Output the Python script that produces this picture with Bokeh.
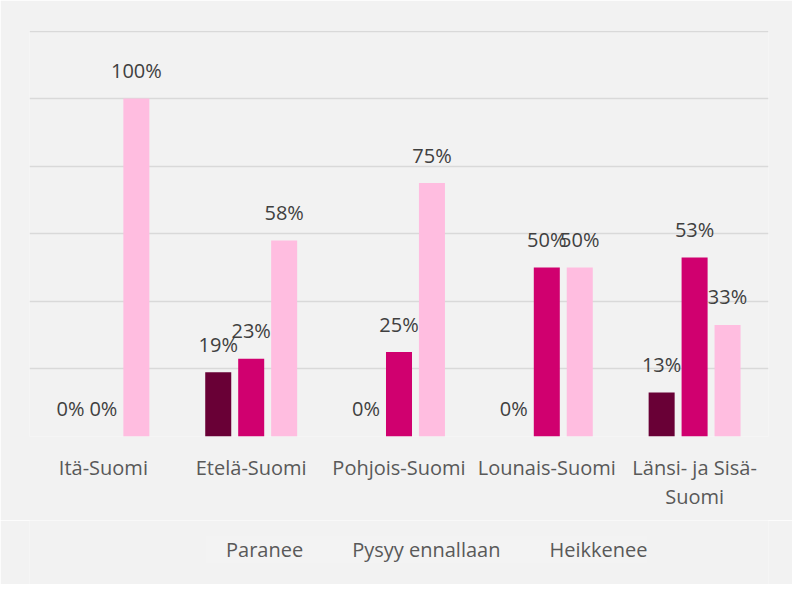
from bokeh.plotting import figure
from bokeh.layouts import column
from bokeh.models import ColumnDataSource, FactorRange, Range1d, Legend, LegendItem, FixedTicker
from bokeh.transform import dodge
from bokeh.core.properties import value
from bokeh.embed import file_html
from bokeh.resources import INLINE

categories = ["Itä-Suomi", "Etelä-Suomi", "Pohjois-Suomi", "Lounais-Suomi", "Länsi- ja Sisä-\nSuomi"]
series_names = ["Paranee", "Pysyy ennallaan", "Heikkenee"]
paranee = [0.0, 0.19, 0.0, 0.0, 0.13]
pysyy = [0.0, 0.23, 0.25, 0.50, 0.53]
heikkenee = [1.00, 0.58, 0.75, 0.50, 0.33]
colors = ["#690036", "#d0006f", "#ffbde0"]

FONT = "Open Sans"
BG = "#f2f2f2"

p = figure(width=792, height=520, x_range=FactorRange(*categories),
           y_range=Range1d(0, 1.2015),
           output_backend="svg", toolbar_location=None,
           background_fill_color=BG, border_fill_color=BG,
           min_border_left=29, min_border_right=24, min_border_top=30, min_border_bottom=84)
p.outline_line_color = None

series = [paranee, pysyy, heikkenee]
offsets = [-0.223, 0.0, 0.223]
for name, vals, col, off in zip(series_names, series, colors, offsets):
    src = ColumnDataSource(dict(cat=categories, val=vals,
                                lab=[f"{round(v * 100)}%" for v in vals]))
    p.vbar(x=dodge("cat", off, range=p.x_range), top="val", width=0.176, source=src,
           fill_color=col, line_color=None)
    p.text(x=dodge("cat", off, range=p.x_range), y="val", text="lab", source=src,
           text_font=value(FONT), text_font_size="20px", text_color="#404040",
           text_align="center", text_baseline="alphabetic", y_offset=-28)

p.yaxis.visible = False
p.ygrid.ticker = FixedTicker(ticks=[0, 0.2, 0.4, 0.6, 0.8, 1.0, 1.2])
p.ygrid.grid_line_color = "#d9d9d9"
p.ygrid.grid_line_width = 1.5
p.xgrid.grid_line_color = None

xa = p.xaxis[0]
xa.axis_line_color = None
xa.major_tick_line_color = None
xa.minor_tick_line_color = None
xa.major_label_text_font = FONT
xa.major_label_text_font_size = "20px"
xa.major_label_text_color = "#595959"
xa.major_label_standoff = 11
xa.major_label_text_line_height = 1.1

# legend strip below the chart
lg = figure(width=792, height=64, x_range=Range1d(0, 1), y_range=Range1d(0, 1),
            output_backend="svg", toolbar_location=None,
            background_fill_color=BG, border_fill_color=BG,
            min_border_left=0, min_border_right=0, min_border_top=0, min_border_bottom=0)
lg.outline_line_color = None
lg.axis.visible = False
lg.grid.visible = False
items = []
for name, col in zip(series_names, colors):
    r = lg.vbar(x=[], top=[], width=0.1, fill_color=col, line_color=None)
    items.append(LegendItem(label=name, renderers=[r]))
legend = Legend(items=items, orientation="horizontal", location=(177, 21),
                background_fill_color=BG, border_line_color=None,
                label_text_font=FONT, label_text_font_size="20px", label_text_color="#595959",
                glyph_width=14, glyph_height=14, label_standoff=6, spacing=29,
                margin=0, padding=0)
lg.add_layout(legend, "center")

layout = column(p, lg, spacing=0)
open("out.html", "w").write(file_html(layout, INLINE))
